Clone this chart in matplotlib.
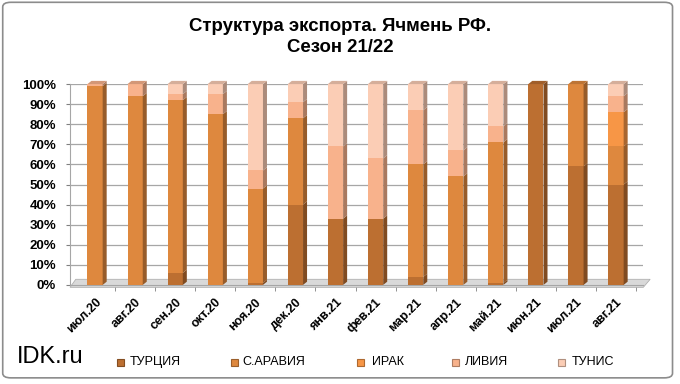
import numpy as np
import matplotlib
matplotlib.use("Agg")
import matplotlib.pyplot as plt
from matplotlib.patches import FancyBboxPatch, Polygon, Rectangle
from matplotlib.colors import to_rgb
import matplotlib.transforms as mtrans

plt.rcParams['font.family'] = ['Liberation Sans', 'DejaVu Sans']

# месяцы сезона
months = ["июл.20", "авг.20", "сен.20", "окт.20", "ноя.20", "дек.20", "янв.21",
          "фев.21", "мар.21", "апр.21", "май.21", "июн.21", "июл.21", "авг.21"]

# доли экспорта, %
turkey = [0, 0, 6, 0, 1, 40, 33, 33, 4, 0, 1, 100, 59, 50]
saudi = [99, 94, 86, 85, 47, 43, 0, 0, 56, 54, 70, 0, 41, 19]
iraq = [0, 0, 0, 0, 0, 0, 0, 0, 0, 0, 0, 0, 0, 17]
libya = [1, 6, 3, 10, 9, 8, 36, 30, 27, 13, 8, 0, 0, 8]
tunis = [0, 0, 5, 5, 43, 9, 31, 37, 13, 33, 21, 0, 0, 6]

series = [turkey, saudi, iraq, libya, tunis]
names = ["ТУРЦИЯ", "С.АРАВИЯ", "ИРАК", "ЛИВИЯ", "ТУНИС"]
colors = ["#BC6F31", "#DE883E", "#F79646", "#F8B28C", "#FBCDB5"]


def shade(c, f):
    r, g, b = to_rgb(c)
    if f < 1:
        return (r * f, g * f, b * f)
    return (r + (1 - r) * (f - 1), g + (1 - g) * (f - 1), b + (1 - b) * (f - 1))


fig = plt.figure(figsize=(6.8, 3.84), dpi=100)
fig.patches.append(FancyBboxPatch((0.004, 0.016), 0.985, 0.978, boxstyle="round,pad=0,rounding_size=0.012",
                                  transform=fig.transFigure, facecolor="white", edgecolor="#8C8C8C",
                                  linewidth=1.2, zorder=-10))

ax = fig.add_axes([0.103, 0.258, 0.843, 0.523])
x = np.arange(len(months))
w = 0.38   # передняя грань
sw = 0.1   # боковая грань
d = 1.6    # смещение "глубины" по y

# пол
ax.add_patch(Polygon([(0, -0.012), (1, -0.012), (1.012, 0.028), (0.01, 0.028)], closed=True,
                     transform=ax.transAxes, facecolor="#D9D9D9", edgecolor="#B0B0B0",
                     linewidth=0.6, zorder=2, clip_on=False))

bottom = np.zeros(len(months))
for vals, name, col in zip(series, names, colors):
    vals = np.array(vals, dtype=float)
    ax.bar(x, vals, w, bottom=bottom, color=col, edgecolor="none", label=name, zorder=4)
    for xi, b, v in zip(x, bottom, vals):
        if v <= 0:
            continue
        xr = xi + w / 2
        ax.add_patch(Polygon([(xr, b), (xr + sw, b + d), (xr + sw, b + v + d), (xr, b + v)],
                             closed=True, facecolor=shade(col, 0.68), edgecolor="none", zorder=4,
                             clip_on=False))
    bottom += vals

# верхние грани
top_col = [None] * len(months)
acc = np.zeros(len(months))
for vals, col in zip(series, colors):
    for i, v in enumerate(vals):
        if v > 0:
            top_col[i] = col
    acc += np.array(vals, dtype=float)
for xi, t, col in zip(x, acc, top_col):
    xl = xi - w / 2
    ax.add_patch(Polygon([(xl, t), (xl + w, t), (xl + w + sw, t + d), (xl + sw, t + d)],
                         closed=True, facecolor=shade(col, 0.85), edgecolor="none", zorder=5,
                         clip_on=False))

ax.set_xlim(-0.624, 13.68)
ax.set_ylim(0, 100)
ax.set_yticks(np.arange(0, 101, 10))
ax.set_yticklabels([f"{v}%" for v in range(0, 101, 10)], fontsize=9.5, fontweight="bold")
ax.set_xticks(x)
ax.set_xticklabels(months, rotation=45, ha="right", va="top", rotation_mode="anchor",
                   fontsize=9, fontweight="bold")
for lbl in ax.get_xticklabels():
    lbl.set_transform(lbl.get_transform() + mtrans.ScaledTranslation(0.02, 0, fig.dpi_scale_trans))
ax.tick_params(axis="x", length=0, pad=8)
ax.tick_params(axis="y", length=3, color="#808080", pad=7)
ax.set_xticks(x + 0.5, minor=True)
ax.tick_params(axis="x", which="minor", length=4, color="#808080")
ax.grid(axis="y", color="#A6A6A6", linewidth=0.9, zorder=0)
for s in ["top", "right"]:
    ax.spines[s].set_visible(False)
ax.spines["left"].set_color("#A6A6A6")
ax.spines["bottom"].set_color("#A6A6A6")

fig.text(0.5, 1 - 31 / 384, "Структура экспорта. Ячмень РФ.", ha="center", va="baseline",
         fontsize=13.4, fontweight="bold")
fig.text(0.5, 1 - 51.5 / 384, "Сезон 21/22", ha="center", va="baseline", fontsize=13.4, fontweight="bold")
fig.text(17 / 680, 1 - 363 / 384, "IDK.ru", ha="left", va="baseline", fontsize=17)

# легенда
mark_x = [120, 234, 360, 455, 561]
text_x = [130, 242, 372, 465, 572]
for mx, tx, name, col in zip(mark_x, text_x, names, colors):
    fig.patches.append(Rectangle(((mx - 3.5) / 680, 1 - 365.5 / 384), 7 / 680, 7 / 384,
                                 transform=fig.transFigure, facecolor=col,
                                 edgecolor=shade(col, 0.7), linewidth=0.8))
    fig.text(tx / 680, 1 - 362 / 384, name, ha="left", va="center", fontsize=9)

fig.savefig("out.png", dpi=100)
